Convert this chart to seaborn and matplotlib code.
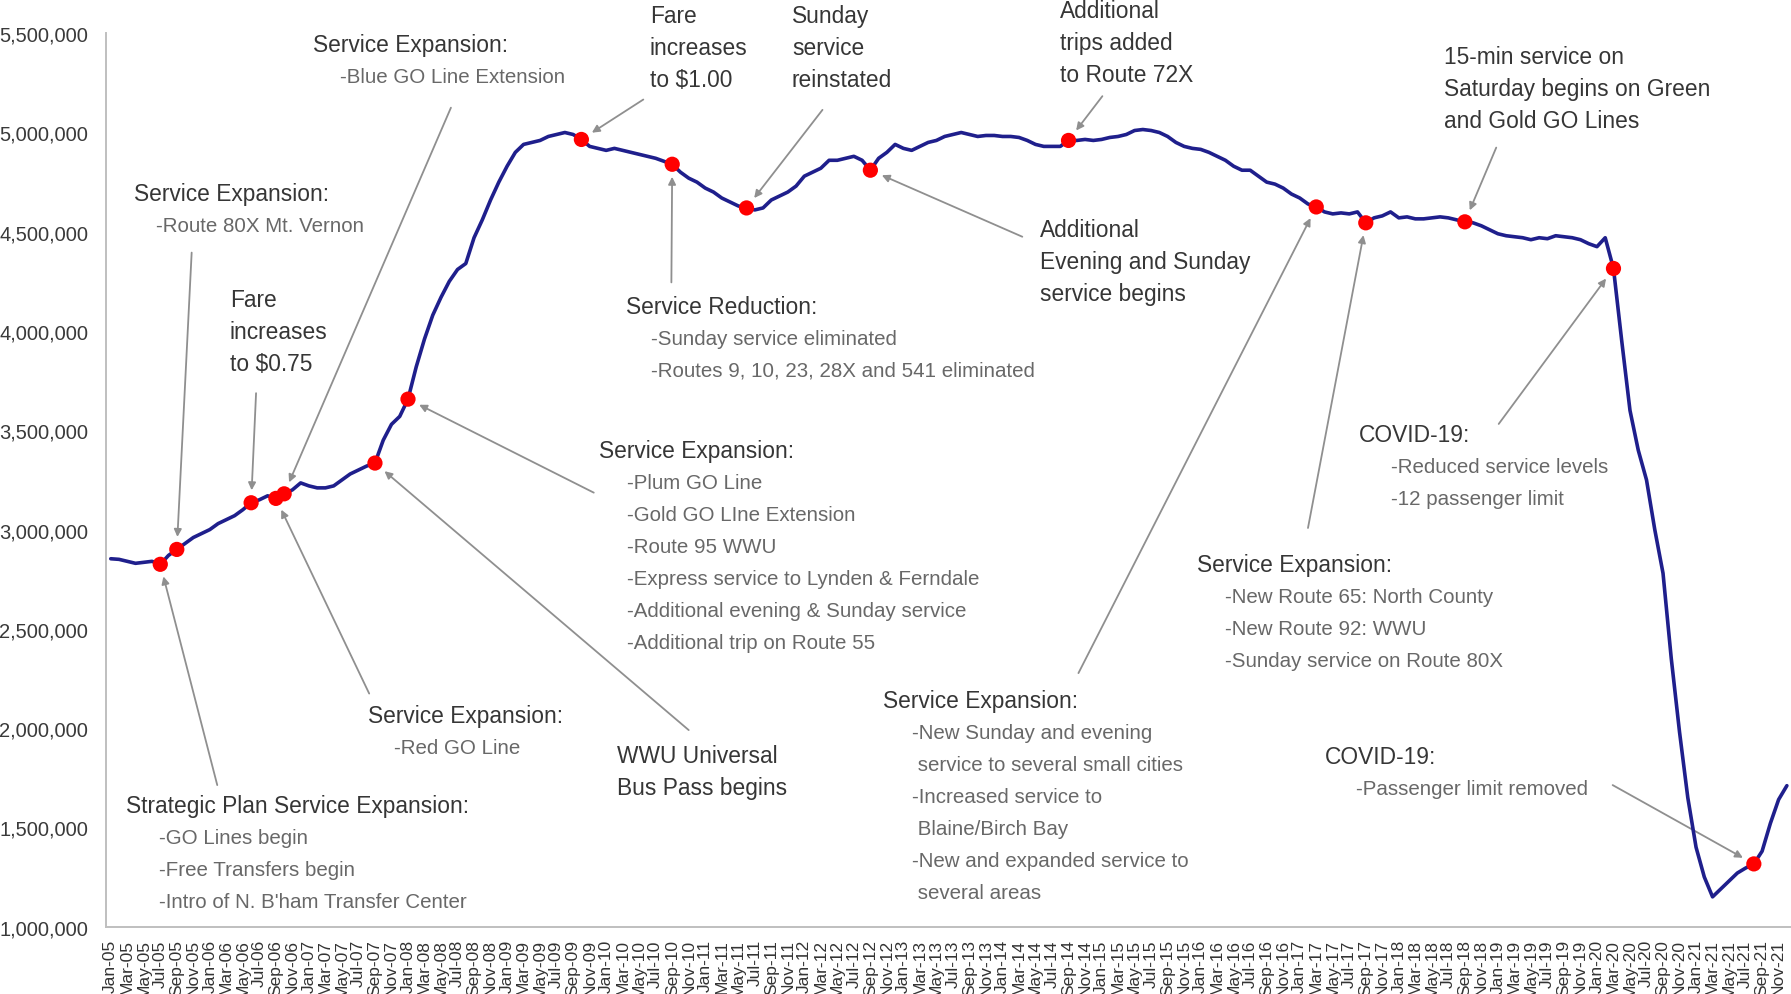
import matplotlib
matplotlib.use('Agg')
import matplotlib.pyplot as plt
from matplotlib import font_manager
from matplotlib.ticker import FuncFormatter
import pandas as pd
import seaborn as sns

# monthly ridership (thousands)
riders_2005 = [2853, 2850, 2840, 2830, 2835, 2840, 2825, 2870, 2900, 2930, 2960, 2980]
riders_2006 = [3000, 3030, 3050, 3070, 3100, 3135, 3150, 3170, 3157, 3180, 3200, 3235]
riders_2007 = [3220, 3210, 3210, 3220, 3250, 3280, 3300, 3320, 3335, 3450, 3530, 3570]
riders_2008 = [3657, 3820, 3960, 4080, 4170, 4250, 4310, 4340, 4470, 4560, 4660, 4750]
riders_2009 = [4830, 4900, 4940, 4950, 4960, 4980, 4990, 5000, 4990, 4965, 4930, 4920]
riders_2010 = [4910, 4920, 4910, 4900, 4890, 4880, 4870, 4855, 4840, 4800, 4770, 4750]
riders_2011 = [4720, 4700, 4670, 4650, 4630, 4620, 4610, 4620, 4660, 4680, 4700, 4730]
riders_2012 = [4780, 4800, 4820, 4860, 4860, 4870, 4880, 4860, 4810, 4870, 4900, 4940]
riders_2013 = [4920, 4910, 4930, 4950, 4960, 4980, 4990, 5000, 4990, 4980, 4985, 4985]
riders_2014 = [4980, 4980, 4975, 4960, 4940, 4930, 4930, 4930, 4960, 4960, 4965, 4960]
riders_2015 = [4965, 4975, 4980, 4990, 5010, 5015, 5010, 5000, 4980, 4950, 4930, 4920]
riders_2016 = [4915, 4900, 4880, 4860, 4830, 4810, 4810, 4780, 4750, 4740, 4720, 4690]
riders_2017 = [4670, 4640, 4625, 4600, 4590, 4595, 4590, 4600, 4545, 4570, 4580, 4600]
riders_2018 = [4570, 4575, 4565, 4565, 4570, 4575, 4570, 4560, 4550, 4545, 4530, 4510]
riders_2019 = [4490, 4480, 4475, 4470, 4460, 4470, 4465, 4480, 4475, 4470, 4460, 4440]
riders_2020 = [4425, 4470, 4315, 3950, 3600, 3400, 3250, 3000, 2780, 2350, 1980, 1650]
riders_2021 = [1400, 1250, 1150, 1190, 1230, 1270, 1295, 1316, 1380, 1520, 1640, 1710]

event_months = ['Jul-05', 'Sep-05', 'Jun-06', 'Sep-06', 'Oct-06', 'Sep-07', 'Jan-08',
                'Oct-09', 'Sep-10', 'Jun-11', 'Sep-12', 'Sep-14', 'Mar-17', 'Sep-17',
                'Sep-18', 'Mar-20', 'Aug-21']

# (event, title lines, item lines, text position (month, M riders), item indent, arrow start)
annotations = [
    ('Oct-06', ['Service Expansion:'], ['-Blue GO Line Extension'], (24.5, 5.442), 3.3, (41.2, 5.125)),
    ('Sep-05', ['Service Expansion:'], ['-Route 80X Mt. Vernon'], (2.8, 4.694), 2.7, (9.8, 4.395)),
    ('Jun-06', ['Fare', 'increases', 'to $0.75'], [], (14.4, 4.159), 0, (17.6, 3.687)),
    ('Sep-06', ['Service Expansion:'], ['-Red GO Line'], (31.1, 2.064), 3.2, (31.3, 2.174)),
    ('Jul-05', ['Strategic Plan Service Expansion:'],
     ['-GO Lines begin', '-Free Transfers begin', "-Intro of N. B'ham Transfer Center"],
     (1.8, 1.610), 4.1, (12.9, 1.713)),
    ('Sep-07', ['WWU Universal', 'Bus Pass begins'], [], (61.3, 1.863), 0, (70.0, 1.990)),
    ('Jan-08', ['Service Expansion:'],
     ['-Plum GO Line', '-Gold GO LIne Extension', '-Route 95 WWU',
      '-Express service to Lynden & Ferndale', '-Additional evening & Sunday service',
      '-Additional trip on Route 55'],
     (59.1, 3.399), 3.4, (58.5, 3.186)),
    ('Oct-09', ['Fare', 'increases', 'to $1.00'], [], (65.3, 5.591), 0, (64.5, 5.166)),
    ('Jun-11', ['Sunday', 'service', 'reinstated'], [], (82.5, 5.591), 0, (86.2, 5.114)),
    ('Sep-10', ['Service Reduction:'],
     ['-Sunday service eliminated', '-Routes 9, 10, 23, 28X and 541 eliminated'],
     (62.4, 4.124), 3.0, (67.9, 4.245)),
    ('Sep-14', ['Additional', 'trips added', 'to Route 72X'], [], (115.0, 5.615), 0, (120.1, 5.183)),
    ('Sep-12', ['Additional', 'Evening and Sunday', 'service begins'], [], (112.5, 4.510), 0, (110.4, 4.475)),
    ('Sep-18', ['15-min service on', 'Saturday begins on Green', 'and Gold GO Lines'], [],
     (161.5, 5.384), 0, (167.8, 4.924)),
    ('Mar-17', ['Service Expansion:'],
     ['-New Sunday and evening', ' service to several small cities', '-Increased service to',
      ' Blaine/Birch Bay', '-New and expanded service to', ' several areas'],
     (93.5, 2.139), 3.6, (117.2, 2.277)),
    ('Sep-17', ['Service Expansion:'],
     ['-New Route 65: North County', '-New Route 92: WWU', '-Sunday service on Route 80X'],
     (131.6, 2.824), 3.4, (145.0, 3.008)),
    ('Mar-20', ['COVID-19:'], ['-Reduced service levels', '-12 passenger limit'],
     (151.2, 3.480), 3.8, (168.1, 3.532)),
    ('Aug-21', ['COVID-19:'], ['-Passenger limit removed'], (147.1, 1.857), 3.7, (181.9, 1.713)),
]

LINE_STEP = 0.161  # M riders between text lines

riders = (riders_2005 + riders_2006 + riders_2007 + riders_2008 + riders_2009 + riders_2010 +
          riders_2011 + riders_2012 + riders_2013 + riders_2014 + riders_2015 + riders_2016 +
          riders_2017 + riders_2018 + riders_2019 + riders_2020 + riders_2021)
month_labels = list(pd.date_range('2005-01-01', periods=len(riders), freq='MS').strftime('%b-%y'))

df = pd.DataFrame({'month': range(len(riders)), 'label': month_labels,
                   'riders': [r * 1000 for r in riders]})
df_events = df[df['label'].isin(event_months)]

sns.set_style('white')
available = {f.name for f in font_manager.fontManager.ttflist}
if 'Liberation Sans Narrow' in available:
    NARROW, k = 'Liberation Sans Narrow', 1.0
else:
    NARROW, k = 'Liberation Sans', 0.82
plt.rcParams['font.family'] = ['Liberation Sans', 'DejaVu Sans']

fig = plt.figure(figsize=(17.91, 9.95), dpi=100)
ax = fig.add_axes([0.0593, 0.0677, 0.9407, 0.8979])

sns.lineplot(data=df, x='month', y='riders', color='#1f1f8c', lw=2.6, ax=ax, zorder=3)
sns.scatterplot(data=df_events, x='month', y='riders', color='#ff0000', s=120,
                edgecolor='none', ax=ax, zorder=5)

ax.set_xlim(-0.55, 203.5)
ax.set_ylim(1_000_000, 5_500_000)
ax.set_yticks(range(1_000_000, 5_500_001, 500_000))
ax.yaxis.set_major_formatter(FuncFormatter(lambda v, _: f'{v:,.0f}'))
ax.set_xticks(df['month'][::2])
ax.set_xticklabels(df['label'][::2], rotation=90, fontsize=12.5, color='#333333')
ax.tick_params(axis='y', labelsize=14.5, labelcolor='#3a3a3a', length=5, color='#bfbfbf', pad=8)
ax.tick_params(axis='x', length=4, color='#bfbfbf', pad=5)
ax.set_xlabel('')
ax.set_ylabel('')
for side in ['top', 'right']:
    ax.spines[side].set_visible(False)
for side in ['left', 'bottom']:
    ax.spines[side].set_color('#bfbfbf')
    ax.spines[side].set_linewidth(1.4)

lookup = dict(zip(df['label'], df['riders']))
for event, titles, items, (tx, ty), indent, (ax0, ay0) in annotations:
    ev_x = month_labels.index(event)
    ax.annotate('', xy=(ev_x, lookup[event]), xytext=(ax0, ay0 * 1e6),
                arrowprops=dict(arrowstyle='-|>', color='#8f8f8f', lw=1.3,
                                shrinkA=0, shrinkB=9, mutation_scale=11),
                annotation_clip=False, zorder=2)
    y = ty
    for line in titles:
        ax.text(tx, y * 1e6, line, ha='left', va='center', fontsize=20 * k,
                family=NARROW, color='#363636', clip_on=False)
        y -= LINE_STEP
    for line in items:
        ax.text(tx + indent, y * 1e6, line, ha='left', va='center', fontsize=18 * k,
                family=NARROW, color='#686868', clip_on=False)
        y -= LINE_STEP

fig.savefig('out.png', dpi=100, facecolor='white')
plt.close(fig)
